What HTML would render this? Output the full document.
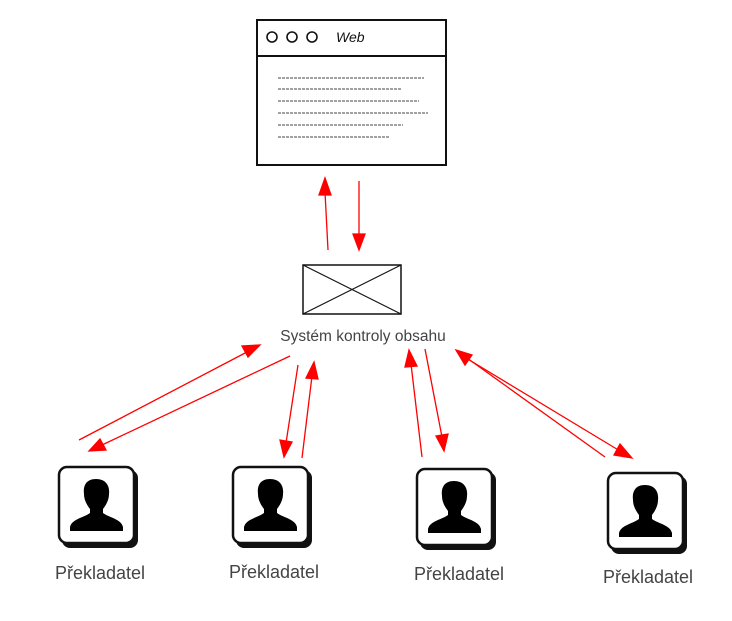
<!DOCTYPE html>
<html><head><meta charset="utf-8"><style>
html,body{margin:0;padding:0;background:#fff;width:732px;height:621px;overflow:hidden}
text{font-family:"Liberation Sans",sans-serif}
</style></head><body>
<svg width="732" height="621" viewBox="0 0 732 621" xmlns="http://www.w3.org/2000/svg">
<defs>
<g id="icon">
<rect x="3" y="3" width="76" height="78" rx="8" fill="#111"/>
<rect x="0" y="0" width="75" height="76" rx="8" fill="#fff" stroke="#111" stroke-width="2.5"/>
<path d="M37 12 C27 12 24 19 25 27 C25 33 28 38 31 42 L31 46 C24 51 13 52 11 60 L11 64 L64 64 L64 60 C62 52 51 51 44 46 L44 42 C47 38 50 33 50 27 C51 19 47 12 37 12 Z" fill="#000"/>
</g>
</defs>

<rect x="257" y="20" width="189" height="145" fill="#fff" stroke="#111" stroke-width="2"/>
<line x1="257" y1="56" x2="446" y2="56" stroke="#111" stroke-width="2"/>
<circle cx="272" cy="37" r="5" fill="none" stroke="#111" stroke-width="1.6"/>
<circle cx="292" cy="37" r="5" fill="none" stroke="#111" stroke-width="1.6"/>
<circle cx="312" cy="37" r="5" fill="none" stroke="#111" stroke-width="1.6"/>
<text x="336" y="42" font-size="14" fill="#111" font-style="italic">Web</text>
<g stroke="#444" stroke-width="1" stroke-dasharray="3 1">
<line x1="278" y1="78" x2="424" y2="78"/>
<line x1="278" y1="89" x2="402" y2="89"/>
<line x1="278" y1="101" x2="419" y2="101"/>
<line x1="278" y1="113" x2="428" y2="113"/>
<line x1="278" y1="125" x2="403" y2="125"/>
<line x1="278" y1="137" x2="390" y2="137"/>
</g>

<rect x="303" y="265" width="98" height="49" fill="#fff" stroke="#111" stroke-width="1.5"/>
<line x1="303" y1="265" x2="401" y2="314" stroke="#111" stroke-width="1.2"/>
<line x1="401" y1="265" x2="303" y2="314" stroke="#111" stroke-width="1.2"/>
<text x="363" y="341" font-size="15.5" fill="#444" text-anchor="middle">Systém kontroly obsahu</text>

<g stroke="red" stroke-width="1.3" fill="red">
<line x1="328" y1="250" x2="325" y2="192"/><polygon points="325,178 319,195 331,195"/>
<line x1="359" y1="181" x2="359" y2="236"/><polygon points="359,250 353,234 365,234"/>
<line x1="79" y1="440" x2="247" y2="352"/><polygon points="260,345 242,346 248,357"/>
<line x1="290" y1="356" x2="102" y2="445"/><polygon points="89,451 106,450 100,439"/>
<line x1="298" y1="365" x2="286" y2="443"/><polygon points="284,457 280,440 292,442"/>
<line x1="302" y1="458" x2="312" y2="376"/><polygon points="314,362 306,378 318,379"/>
<line x1="422" y1="457" x2="411" y2="364"/><polygon points="409,350 405,367 417,366"/>
<line x1="425" y1="349" x2="442" y2="437"/><polygon points="444,451 436,436 448,434"/>
<line x1="605" y1="457" x2="467" y2="358"/><polygon points="456,350 465,365 472,355"/>
<line x1="466" y1="358" x2="620" y2="451"/><polygon points="632,458 620,444 614,455"/>
</g>

<use href="#icon" x="59" y="467"/>
<use href="#icon" x="233" y="467"/>
<use href="#icon" x="417" y="469"/>
<use href="#icon" x="608" y="473"/>
<g font-size="18" fill="#444" text-anchor="middle">
<text x="100" y="579">Překladatel</text>
<text x="274" y="578">Překladatel</text>
<text x="459" y="580">Překladatel</text>
<text x="648" y="583">Překladatel</text>
</g>
</svg>
</body></html>
